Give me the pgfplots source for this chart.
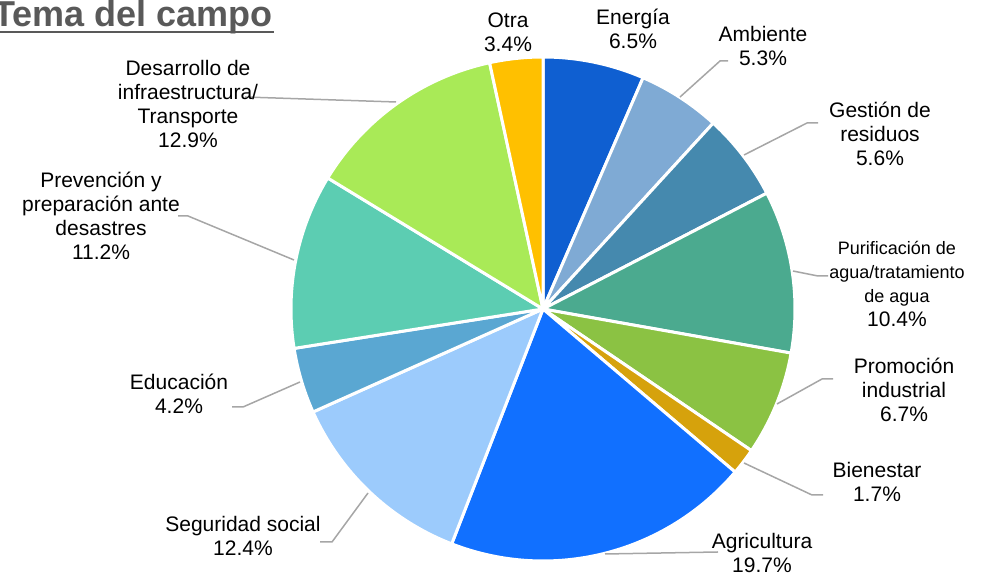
\documentclass[border=0pt]{standalone}
\usepackage{pgfplots}
\pgfplotsset{compat=1.18}
\usepackage{pgfplotstable}
\usepackage{fontspec}
\setmainfont{Liberation Sans}
\definecolor{pie0}{HTML}{0F5FD1}
\definecolor{pie1}{HTML}{7FAAD4}
\definecolor{pie2}{HTML}{4589AE}
\definecolor{pie3}{HTML}{4BAA8F}
\definecolor{pie4}{HTML}{8BC243}
\definecolor{pie5}{HTML}{D6A20C}
\definecolor{pie6}{HTML}{1170FF}
\definecolor{pie7}{HTML}{9CCBFC}
\definecolor{pie8}{HTML}{5AA7D2}
\definecolor{pie9}{HTML}{5CCDB2}
\definecolor{pie10}{HTML}{A9EA57}
\definecolor{pie11}{HTML}{FFC000}
\definecolor{tgray}{HTML}{595959}
\definecolor{lgray}{HTML}{A6A6A6}
\pgfplotstableread{
val
6.5
5.3
5.6
10.4
6.7
1.7
19.7
12.4
4.2
11.2
12.9
3.4
}\pietable
\newcommand\lf{\fontsize{10.5}{12}\selectfont}
\newcommand\smallf{\fontsize{9}{11}\selectfont}
\begin{document}
\begin{tikzpicture}
\useasboundingbox (0,0) rectangle (493pt,288.5pt);
\clip (0,0) rectangle (493pt,288.5pt);
\begin{axis}[at={(0,0)}, anchor=south west, scale only axis,
  width=493pt, height=288.5pt, xmin=0, xmax=986, ymin=0, ymax=577,
  hide axis, clip=false]
\gdef\cum{0}
\pgfplotsinvokeforeach{0,...,11}{
  \pgfplotstablegetelem{#1}{val}\of\pietable
  \pgfmathsetmacro\aS{90-3.6*\cum}
  \pgfmathsetmacro\aE{90-3.6*(\cum+\pgfplotsretval)}
  \pgfmathsetmacro\newcum{\cum+\pgfplotsretval}
  \global\let\cum\newcum
  \edef\doplot{\noexpand\addplot[fill=pie#1, draw=white, line width=1.5pt, line join=round, domain=\aE:\aS, samples=80] ({543+252*cos(x)},{268+252*sin(x)}) -- (axis cs:543,268) -- cycle;}
  \doplot
}
% leader lines
\draw[lgray, line width=0.75pt] (axis cs:680,480) -- (axis cs:720,516) -- (axis cs:728,516);
\draw[lgray, line width=0.75pt] (axis cs:744,422) -- (axis cs:807,454) -- (axis cs:818,454);
\draw[lgray, line width=0.75pt] (axis cs:793,306) -- (axis cs:818,301) -- (axis cs:828,301);
\draw[lgray, line width=0.75pt] (axis cs:777,173) -- (axis cs:822,198) -- (axis cs:833,198);
\draw[lgray, line width=0.75pt] (axis cs:744,114) -- (axis cs:812,82) -- (axis cs:823,82);
\draw[lgray, line width=0.75pt] (axis cs:605,23) -- (axis cs:718,25);
\draw[lgray, line width=0.75pt] (axis cs:368,84) -- (axis cs:332,35) -- (axis cs:320,35);
\draw[lgray, line width=0.75pt] (axis cs:300,195) -- (axis cs:243,170) -- (axis cs:232,170);
\draw[lgray, line width=0.75pt] (axis cs:294,317) -- (axis cs:188,361) -- (axis cs:178,361);
\draw[lgray, line width=0.75pt] (axis cs:396,475) -- (axis cs:245,480);
% labels
\begin{scope}[every node/.style={align=center, font=\lf, inner sep=0pt}]
\node at (axis cs:508,545) {Otra\\3.4\%};
\node at (axis cs:633,548.5) {Energía\\6.5\%};
\node at (axis cs:763,530.5) {Ambiente\\5.3\%};
\node at (axis cs:880,443) {Gestión de\\residuos\\5.6\%};
\node at (axis cs:897,293) {{\smallf Purificación de}\\{\smallf agua/tratamiento}\\{\smallf de agua}\\10.4\%};
\node at (axis cs:904,187) {Promoción\\industrial\\6.7\%};
\node at (axis cs:877,95.5) {Bienestar\\1.7\%};
\node at (axis cs:762,24) {Agricultura\\19.7\%};
\node at (axis cs:243,41.5) {Seguridad social\\12.4\%};
\node at (axis cs:179,183) {Educación\\4.2\%};
\node at (axis cs:101,361) {Prevención y\\preparación ante\\desastres\\11.2\%};
\node at (axis cs:188,473) {Desarrollo de\\infraestructura/\\Transporte\\12.9\%};
\end{scope}
\node[anchor=base west, font=\fontsize{18}{21}\selectfont\bfseries, text=tgray, inner sep=0pt] at (axis cs:-7,550) {Tema del campo};
\draw[tgray, line width=1pt] (axis cs:0,545) -- (axis cs:274,545);
\end{axis}
\end{tikzpicture}
\end{document}
